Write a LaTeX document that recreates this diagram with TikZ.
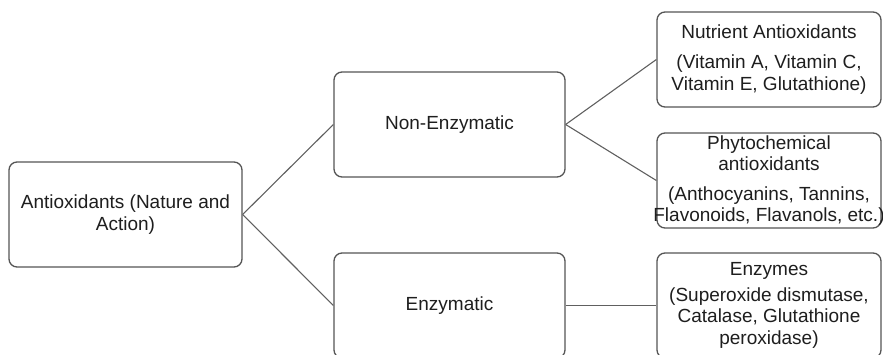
\documentclass[tikz,border=0pt]{standalone}
\usepackage{fontspec}
\setmainfont{Liberation Sans}
\definecolor{boxline}{HTML}{555555}
\definecolor{linkline}{HTML}{606060}
\definecolor{ink}{HTML}{1E1E1E}
\begin{document}
\begin{tikzpicture}[x=1pt,y=-1pt,
  box/.style={draw=boxline, line width=1.3pt, rounded corners=8pt,
    fill=white, inner sep=0pt, align=center, text=ink,
    font=\fontsize{19}{21.5}\selectfont},
  boxtext/.style={inner sep=0pt, align=center, text=ink,
    font=\fontsize{19}{21.5}\selectfont},
  link/.style={draw=linkline, line width=1.1pt}]
\useasboundingbox (0,0) rectangle (883,355);
\clip (0,0) rectangle (883,355);

% first level: the general class
\node[box, minimum width=233pt, minimum height=105pt] (root) at (125.5,214.5)
  {Antioxidants (Nature and\\Action)};

% second level
\node[box, minimum width=231pt, minimum height=105pt] (nonenz) at (449.5,124.5)
  {Non-Enzymatic};
\node[box, minimum width=231pt, minimum height=105pt] (enz) at (449.5,305.5)
  {Enzymatic};

% third level: examples of each kind
\node[box, minimum width=224pt, minimum height=95pt] (nutr) at (769,59.5)
  {Nutrient Antioxidants\\[9pt](Vitamin A, Vitamin C,\\Vitamin E, Glutathione)};
% the longest line here runs slightly past the frame, so the text is set apart
\node[box, minimum width=224pt, minimum height=95pt] (phyto) at (769,180.5) {};
\node[boxtext] (phytotext) at (phyto.center)
  {Phytochemical\\antioxidants\\[8pt](Anthocyanins, Tannins,\\Flavonoids, Flavanols, etc.)};
\node[box, minimum width=224pt, minimum height=105pt] (enzy) at (769,305.5)
  {Enzymes\\[4pt](Superoxide dismutase,\\Catalase, Glutathione\\peroxidase)};

% connectors
\draw[link] (root.east) -- (nonenz.west);
\draw[link] (root.east) -- (enz.west);
\draw[link] (nonenz.east) -- (nutr.west);
\draw[link] (nonenz.east) -- (phyto.west);
\draw[link] (enz.east) -- (enzy.west);
\end{tikzpicture}
\end{document}
